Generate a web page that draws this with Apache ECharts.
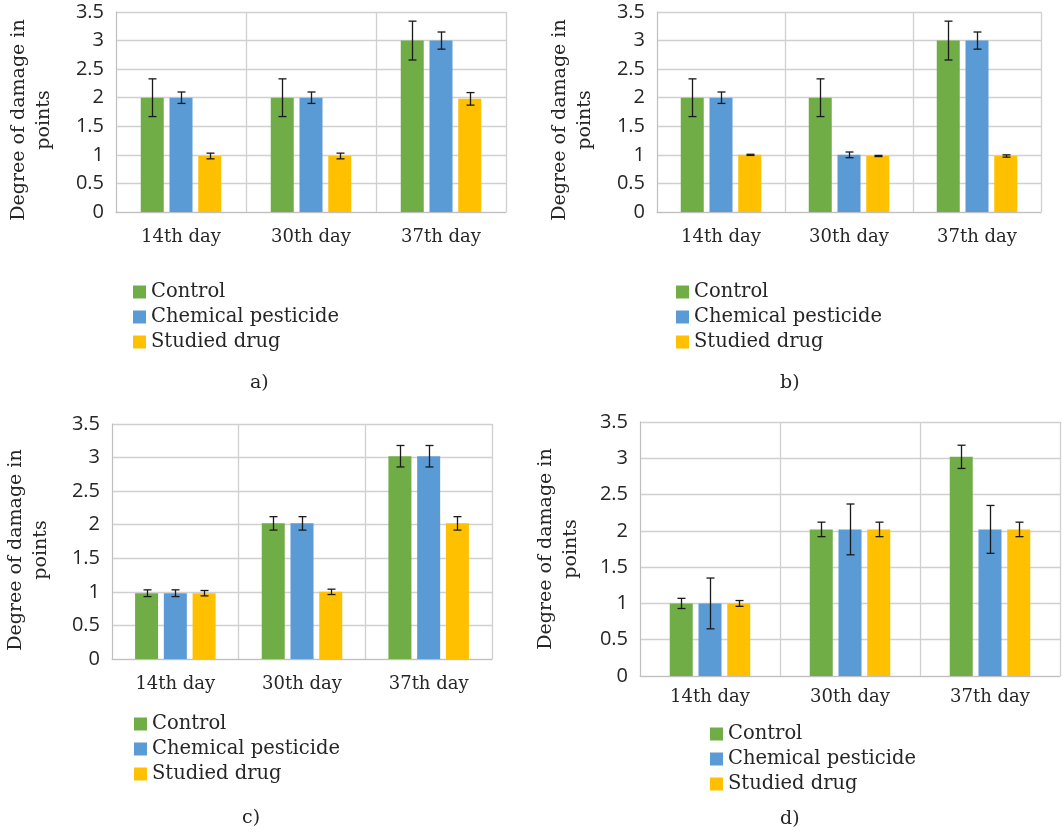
<!DOCTYPE html>
<html><head><meta charset="utf-8">
<script src="https://cdn.jsdelivr.net/npm/echarts@6/dist/echarts.min.js"></script>
<style>html,body{margin:0;padding:0;background:#fff}#c{width:1063px;height:833px}</style>
</head><body><div id="c"></div>
<script>
const categories = ['14th day', '30th day', '37th day'];
const seriesNames = ['Control', 'Chemical pesticide', 'Studied drug'];
const yTicks = [0, 0.5, 1, 1.5, 2, 2.5, 3, 3.5];
const panelLabels = ['a)', 'b)', 'c)', 'd)'];

// panel a
const aControl = [2, 2, 3];        const aControlErr = [0.33, 0.33, 0.34];
const aPesticide = [2, 2, 3];      const aPesticideErr = [0.1, 0.1, 0.15];
const aDrug = [0.98, 0.98, 1.98];  const aDrugErr = [0.05, 0.05, 0.11];
// panel b
const bControl = [2, 2, 3];        const bControlErr = [0.33, 0.33, 0.34];
const bPesticide = [2, 1, 3];      const bPesticideErr = [0.1, 0.05, 0.15];
const bDrug = [1, 0.98, 0.98];     const bDrugErr = [0.01, 0.01, 0.02];
// panel c
const cControl = [0.98, 2.02, 3.02];   const cControlErr = [0.05, 0.1, 0.16];
const cPesticide = [0.98, 2.02, 3.02]; const cPesticideErr = [0.05, 0.1, 0.16];
const cDrug = [0.98, 1.0, 2.02];       const cDrugErr = [0.04, 0.04, 0.1];
// panel d
const dControl = [1, 2.02, 3.02];      const dControlErr = [0.07, 0.1, 0.16];
const dPesticide = [1, 2.02, 2.02];    const dPesticideErr = [0.35, 0.35, 0.33];
const dDrug = [1, 2.02, 2.02];         const dDrugErr = [0.04, 0.1, 0.1];

const panels = [
  {vals: [aControl, aPesticide, aDrug], errs: [aControlErr, aPesticideErr, aDrugErr]},
  {vals: [bControl, bPesticide, bDrug], errs: [bControlErr, bPesticideErr, bDrugErr]},
  {vals: [cControl, cPesticide, cDrug], errs: [cControlErr, cPesticideErr, cDrugErr]},
  {vals: [dControl, dPesticide, dDrug], errs: [dControlErr, dPesticideErr, dDrugErr]}
];

const colors = ['#70AD47', '#5B9BD5', '#FFC000'];
const SERIF = '"DejaVu Serif", serif';
const SANS = '"Open Sans", "Noto Sans", sans-serif';
const BAR_W = 23, BAR_GAP_PX = 5.75;

const layout = [
  {grid: {left: 116, top: 12, width: 390, height: 200}, xMargin: 16, nameGap: 59, namePad: 16, legend: {left: 128, top: 277}, label: [258, 386]},
  {grid: {left: 657, top: 12, width: 384, height: 200}, xMargin: 16, nameGap: 59, namePad: 16, legend: {left: 671, top: 277}, label: [788, 386]},
  {grid: {left: 112, top: 424, width: 380, height: 235}, xMargin: 16, nameGap: 58, namePad: 17, legend: {left: 129, top: 709}, label: [250, 821]},
  {grid: {left: 640, top: 422, width: 420, height: 254}, xMargin: 12, nameGap: 56, namePad: 0, legend: {left: 705, top: 719}, label: [788, 822]}
];

const grids = [], xAxes = [], yAxes = [], series = [], legends = [], graphics = [];
layout.forEach((L, p) => {
  grids.push(Object.assign({containLabel: false, outerBoundsMode: 'none'}, L.grid));
  xAxes.push({
    type: 'category', gridIndex: p, data: categories,
    axisLine: {show: true, lineStyle: {color: '#bfbfbf', width: 1}},
    axisTick: {show: false},
    splitLine: {show: true, lineStyle: {color: '#d0d0d0', width: 1.3}},
    axisLabel: {color: '#262626', fontFamily: SERIF, fontSize: 18, margin: L.xMargin}
  });
  yAxes.push({
    type: 'value', gridIndex: p, min: 0, max: 3.5, interval: 0.5,
    axisLine: {show: true, lineStyle: {color: '#bfbfbf', width: 1}},
    axisTick: {show: false},
    splitLine: {show: true, lineStyle: {color: '#d0d0d0', width: 1.3}},
    axisLabel: {color: '#262626', fontFamily: SANS, fontSize: 20, margin: 12,
      formatter: v => yTicks.includes(v) ? String(v) : ''},
    name: 'Degree of damage in\npoints', nameLocation: 'middle', nameRotate: 90, nameGap: L.nameGap,
    nameTextStyle: {color: '#262626', fontFamily: SERIF, fontSize: 19, lineHeight: 25,
      padding: [0, L.namePad, 0, 0]}
  });
  const P = panels[p];
  seriesNames.forEach((nm, s) => {
    series.push({
      type: 'bar', name: nm, xAxisIndex: p, yAxisIndex: p,
      data: P.vals[s], barWidth: BAR_W, barGap: '25%',
      itemStyle: {color: colors[s]}, silent: true, animation: false
    });
  });
  seriesNames.forEach((nm, s) => {
    const data = P.vals[s].map((v, i) => [i, v, P.errs[s][i]]);
    series.push({
      type: 'custom', xAxisIndex: p, yAxisIndex: p, data: data, silent: true, animation: false, z: 5,
      renderItem: (params, api) => {
        const i = api.value(0), v = api.value(1), e = api.value(2);
        const off = (s - 1) * (BAR_W + BAR_GAP_PX);
        const top = api.coord([i, v + e]);
        const bot = api.coord([i, v - e]);
        const x = Math.round(top[0] + off) + 0.5;
        const cw = 4;
        const st = {stroke: '#1a1a1a', lineWidth: 1.3};
        return {type: 'group', children: [
          {type: 'line', shape: {x1: x, y1: top[1], x2: x, y2: bot[1]}, style: st},
          {type: 'line', shape: {x1: x - cw, y1: top[1], x2: x + cw, y2: top[1]}, style: st},
          {type: 'line', shape: {x1: x - cw, y1: bot[1], x2: x + cw, y2: bot[1]}, style: st}
        ]};
      }
    });
  });
  legends.push({
    left: L.legend.left, top: L.legend.top, orient: 'vertical', data: seriesNames,
    icon: 'rect', itemWidth: 13, itemHeight: 13, itemGap: 5,
    textStyle: {color: '#262626', fontFamily: SERIF, fontSize: 19.5},
    selectedMode: false
  });
  graphics.push({type: 'text', left: L.label[0] - 8, top: L.label[1] - 12,
    style: {text: panelLabels[p], fill: '#262626', font: '19px ' + SERIF}});
});

const chart = echarts.init(document.getElementById('c'), null, {renderer: 'canvas'});
chart.setOption({
  animation: false, color: colors,
  grid: grids, xAxis: xAxes, yAxis: yAxes, series: series, legend: legends, graphic: graphics
});
</script></body></html>
